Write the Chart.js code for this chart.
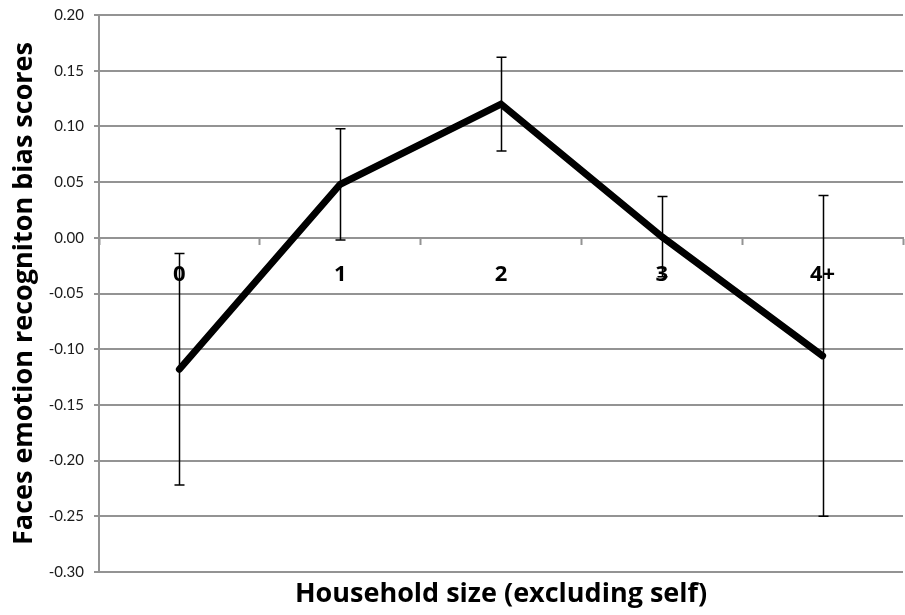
<!DOCTYPE html>
<html>
<head>
<meta charset="utf-8">
<script src="https://cdn.jsdelivr.net/npm/chart.js@4.4.1/dist/chart.umd.min.js"></script>
<style>
  html, body { margin: 0; padding: 0; background: #ffffff; }
  #wrap { width: 905px; height: 615px; }
</style>
</head>
<body>
<div id="wrap"><canvas id="chart"></canvas></div>
<script>
// Household size groups and mean bias scores with their error bar half-widths
const categories = ['0', '1', '2', '3', '4+'];
const meanScores = [-0.118, 0.048, 0.120, 0.001, -0.106];
const errorSizes = [0.104, 0.050, 0.042, 0.036, 0.144];
const yTicks = [0.20, 0.15, 0.10, 0.05, 0.00, -0.05, -0.10, -0.15, -0.20, -0.25, -0.30];

const gridGray = '#939393';

// Vertical error bars with caps, drawn through the chart scales
const errorBarPlugin = {
  id: 'errorBars',
  beforeDatasetsDraw(chart) {
    const { ctx, scales: { x, y } } = chart;
    ctx.save();
    ctx.strokeStyle = '#000000';
    ctx.lineWidth = 1.5;
    const cap = 5;
    categories.forEach((c, i) => {
      const px = Math.round(x.getPixelForValue(i)) + 0.5;
      const top = y.getPixelForValue(meanScores[i] + errorSizes[i]);
      const bot = y.getPixelForValue(meanScores[i] - errorSizes[i]);
      ctx.beginPath();
      ctx.moveTo(px, top);
      ctx.lineTo(px, bot);
      ctx.moveTo(px - cap, top);
      ctx.lineTo(px + cap, top);
      ctx.moveTo(px - cap, bot);
      ctx.lineTo(px + cap, bot);
      ctx.stroke();
    });
    ctx.restore();
  }
};

new Chart(document.getElementById('chart'), {
  type: 'line',
  data: {
    labels: categories,
    datasets: [{
      data: meanScores,
      borderColor: '#000000',
      borderWidth: 7,
      pointRadius: 0,
      pointHoverRadius: 0,
      tension: 0,
      borderCapStyle: 'round',
      borderJoinStyle: 'miter',
      fill: false
    }]
  },
  options: {
    responsive: true,
    maintainAspectRatio: false,
    animation: false,
    events: [],
    layout: { padding: { top: 15, right: 2, left: 0, bottom: 0 } },
    plugins: {
      legend: { display: false },
      tooltip: { enabled: false },
      title: {
        display: true,
        position: 'bottom',
        fullSize: false,
        text: 'Household size (excluding self)',
        color: '#000000',
        font: { family: 'Open Sans', size: 27, weight: 'bold' },
        padding: { top: 6, bottom: 4.6 }
      }
    },
    scales: {
      x: {
        type: 'category',
        position: { y: 0 },
        offset: true,
        grid: {
          display: true,
          offset: true,
          drawOnChartArea: false,
          drawTicks: true,
          tickLength: 6,
          tickColor: gridGray,
          tickWidth: 2
        },
        border: { display: true, color: gridGray, width: 2 },
        ticks: {
          color: '#000000',
          font: { family: 'Open Sans', size: 22, weight: 'bold' },
          padding: 18,
          maxRotation: 0
        }
      },
      y: {
        min: -0.30,
        max: 0.20,
        afterBuildTicks(scale) {
          scale.ticks = yTicks.map(v => ({ value: v }));
        },
        afterFit(scale) {
          scale.width = 99;
          scale.paddingTop = 2;
          scale.paddingBottom = 2;
        },
        grid: {
          color: gridGray,
          lineWidth: 2,
          tickLength: 5,
          tickColor: gridGray
        },
        border: { display: true, color: gridGray, width: 2 },
        ticks: {
          color: '#1a1a1a',
          font: { family: 'Lato', size: 15 },
          padding: 10,
          callback: (v) => Number(v).toFixed(2)
        },
        title: {
          display: true,
          text: 'Faces emotion recogniton bias scores',
          color: '#000000',
          font: { family: 'Open Sans', size: 27, weight: 'bold' },
          padding: { top: 8, bottom: 0 }
        }
      }
    }
  },
  plugins: [errorBarPlugin]
});
</script>
</body>
</html>
